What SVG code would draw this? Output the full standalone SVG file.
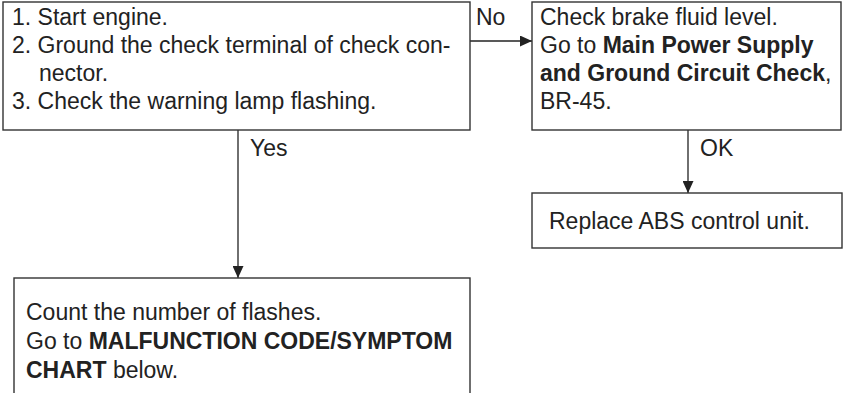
<svg xmlns="http://www.w3.org/2000/svg" width="850" height="393" viewBox="0 0 850 393">
<defs>
<marker id="ah" markerWidth="12" markerHeight="11" refX="12" refY="5.5" orient="auto" markerUnits="userSpaceOnUse">
<path d="M0,0 L12,5.5 L0,11 Z" fill="#222"/>
</marker>
<style>
.box{fill:#fff;stroke:#333;stroke-width:1.4}
text{font-family:"Liberation Sans",Arial,sans-serif;font-size:23px;fill:#222}
.b{font-weight:bold}
.c{fill:none;stroke:#222;stroke-width:1.3}
</style>
</defs>
<rect width="850" height="393" fill="#fff"/>
<g id="connectors">
<path class="c" d="M470,41 H532" marker-end="url(#ah)"/>
<path class="c" d="M238,130 V278" marker-end="url(#ah)"/>
<path class="c" d="M688,130 V193" marker-end="url(#ah)"/>
<text x="476" y="25">No</text>
<text x="250" y="156">Yes</text>
<text x="700" y="156">OK</text>
</g>
<g id="start">
<rect class="box" x="3" y="2" width="467" height="128"/>
<text x="12" y="25">1. Start engine.</text>
<text x="12" y="53">2. Ground the check terminal of check con-</text>
<text x="39" y="81">nector.</text>
<text x="12" y="109">3. Check the warning lamp flashing.</text>
</g>
<g id="brake">
<rect class="box" x="532" y="2" width="309" height="128"/>
<text x="540" y="25">Check brake fluid level.</text>
<text x="540" y="53">Go to <tspan class="b">Main Power Supply</tspan></text>
<text x="540" y="81"><tspan class="b">and Ground Circuit Check</tspan>,</text>
<text x="540" y="109">BR-45.</text>
</g>
<g id="replace">
<rect class="box" x="532" y="193" width="310" height="55"/>
<text x="549" y="229">Replace ABS control unit.</text>
</g>
<g id="count">
<rect class="box" x="14" y="278" width="456" height="120"/>
<text x="26" y="320">Count the number of flashes.</text>
<text x="26" y="349">Go to <tspan class="b">MALFUNCTION CODE/SYMPTOM</tspan></text>
<text x="26" y="378"><tspan class="b">CHART</tspan> below.</text>
</g>
</svg>
